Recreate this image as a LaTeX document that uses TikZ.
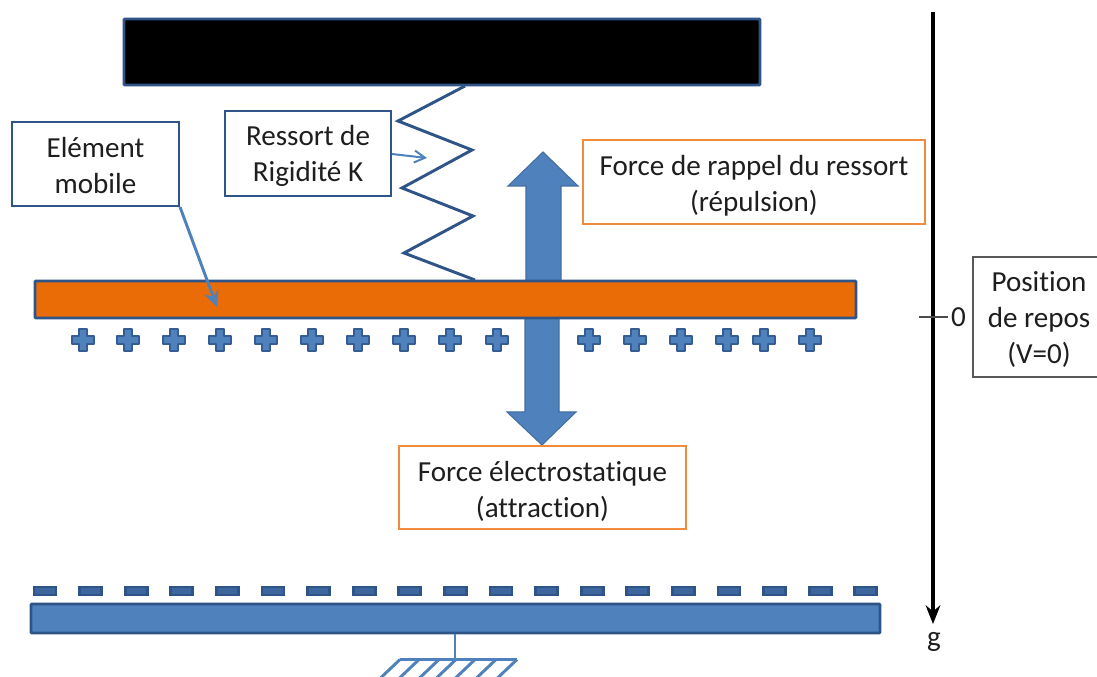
\documentclass[tikz,border=0pt]{standalone}
\usepackage{fontspec}
\setmainfont[Ligatures=NoCommon]{Carlito}
\usetikzlibrary{arrows.meta}
\definecolor{bluefill}{HTML}{4F81BD}
\definecolor{bluedark}{HTML}{2F5488}
\definecolor{orangefill}{HTML}{E96C07}
\definecolor{orangeline}{HTML}{F08A3C}
\definecolor{txt}{HTML}{1E1E1E}
\newcommand{\firstline}[1]{\rule{0pt}{#1pt}}
\tikzset{
  x=0.75pt,y=-0.75pt,
  label box/.style={draw=#1,fill=white,line width=1.5pt,inner sep=0pt,align=center,text=txt,
    font=\fontsize{21.8}{27}\selectfont},
  bar/.style={draw=bluedark,fill=#1,line width=2.2pt,inner sep=0pt,rounded corners=0.8pt},
  spring line/.style={draw=bluedark,line width=2.2pt,line join=miter},
  thin arrow/.style={draw=bluefill,line width=1.5pt,-{Straight Barb[length=8pt,width=9pt]}},
  solid arrow/.style={draw=bluefill,line width=2.2pt,-{Stealth[length=12pt,width=11pt]}},
  plus mark/.style={draw=bluedark!80!bluefill,fill=bluefill,line width=1.5pt,line join=round},
  minus mark/.style={draw=bluedark,fill=bluedark!60!bluefill,line width=2.2pt},
  big arrow/.style={fill=bluefill,draw=bluefill!85!black,line width=0.8pt},
  ground line/.style={draw=bluefill,line width=2.2pt},
  axis line/.style={draw=black,line width=2.4pt,-{Stealth[length=14pt,width=11pt]}},
  plain text/.style={text=txt,inner sep=0pt,font=\fontsize{21.8}{27}\selectfont},
}
\begin{document}
\begin{tikzpicture}
\clip (0,0) rectangle (1097,677);
\fill[white] (0,0) rectangle (1097,677);

% double arrow behind the moving bar
\path[big arrow] (526,290) -- (526,186) -- (508,186) -- (543,152) -- (578,186) -- (561,186) -- (561,290) -- cycle;
\path[big arrow] (525,310) -- (525,412) -- (507,412) -- (542,445) -- (576,412) -- (559,412) -- (559,310) -- cycle;

% bars
\node[bar=black,minimum width=636*.75pt,minimum height=66*.75pt] (fixed) at (442,52) {};
\node[bar=orangefill,minimum width=821*.75pt,minimum height=37*.75pt] (mobile) at (445.5,299.5) {};
\node[bar=bluefill,minimum width=849*.75pt,minimum height=29*.75pt] (plate) at (455.5,618.5) {};

% spring
\coordinate (s0) at (465,86);
\coordinate (s1) at (398,121);
\coordinate (s2) at (472,150);
\coordinate (s3) at (402,188);
\coordinate (s4) at (473,216);
\coordinate (s5) at (404,253);
\coordinate (s6) at (475,280);
\draw[spring line] (s0) -- (s1) -- (s2) -- (s3) -- (s4) -- (s5) -- (s6);

% charges
\foreach \cx in {83,128,174,220,266,312,358,404,450,497,589,635,681,727,764,810}{
  \path[plus mark] (\cx-4,329) -- (\cx+4,329) -- (\cx+4,336) -- (\cx+11,336) -- (\cx+11,344) -- (\cx+4,344)
    -- (\cx+4,351) -- (\cx-4,351) -- (\cx-4,344) -- (\cx-11,344) -- (\cx-11,336) -- (\cx-4,336) -- cycle;
}
\foreach \i in {0,...,18}{
  \path[minus mark] (45+45.6*\i-11,587) rectangle (45+45.6*\i+11,595);
}

% labels
\node[label box=bluedark,minimum width=167*.75pt,minimum height=84*.75pt] (element) at (95.5,164) {\firstline{17}Elément\\mobile};
\node[label box=bluedark,minimum width=166*.75pt,minimum height=85*.75pt] (ressort) at (308,153.5) {\firstline{18.5}Ressort de\\Rigidité K};
\node[label box=orangeline,minimum width=342*.75pt,minimum height=84*.75pt] (rappel) at (754,182) {\firstline{20.5}Force de rappel du ressort\\(répulsion)};
\node[label box=orangeline,minimum width=287*.75pt,minimum height=83*.75pt] (electro) at (542.5,487.5) {\firstline{20.5}Force électrostatique\\(attraction)};
\node[label box=black!65,line width=1.1pt,minimum width=140*.75pt,minimum height=120*.75pt] (repos) at (1043,317) {};
\node[plain text,align=center] (repostext) at (1039,320) {Position\\de repos\\(V=0)};

% label pointers
\coordinate (mobtip) at (217,307);
\coordinate (springtip) at (427,158);
\draw[solid arrow] (element.south east) -- (mobtip);
\draw[thin arrow] (ressort.east) ++(0,0.5) -- (springtip);

% vertical axis
\coordinate (atop) at (933,12);
\coordinate (abot) at (933,624);
\coordinate (tl) at (919,317);
\coordinate (tr) at (948,317);
\draw[axis line] (atop) -- (abot);
\draw[draw=black!70,line width=0.8pt] (tl) -- (tr);
\node[plain text] (zero) at (958.5,317) {0};
\node[plain text] (g) at (934,642) {g};

% ground
\coordinate (gstem) at (455,659.5);
\coordinate (gl) at (400,659.5);
\coordinate (gr) at (517,659.5);
\draw[ground line] (plate.south -| gstem) -- (gstem);
\draw[ground line] (gl) -- (gr);
\foreach \tx in {400,419,439,456,475,496,517}{
  \draw[ground line] (\tx,659.5) -- ++(-20,19);
}
\end{tikzpicture}
\end{document}
